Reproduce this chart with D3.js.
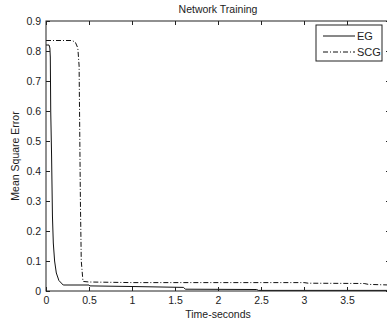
<!DOCTYPE html>
<html>
<head>
<meta charset="utf-8">
<script src="https://cdn.jsdelivr.net/npm/d3@7"></script>
<style>
  body { margin: 0; background: #fff; }
  text { font-family: "Liberation Sans", Arial, sans-serif; fill: #222; }
</style>
</head>
<body>
<svg id="chart" width="387" height="324"></svg>
<script>
// EG curve (solid)
const egTime = [0, 0.035, 0.045, 0.05, 0.055, 0.065, 0.075, 0.085, 0.1, 0.12, 0.15, 0.2, 0.5, 0.51, 1.0, 1.6, 1.62, 2.45, 2.47, 4.0];
const egMse = [0.82, 0.82, 0.81, 0.78, 0.6, 0.45, 0.25, 0.16, 0.1, 0.06, 0.035, 0.02, 0.02, 0.017, 0.015, 0.012, 0.006, 0.005, 0.002, 0.002];

// SCG curve (dash-dot)
const scgTime = [0, 0.3, 0.34, 0.37, 0.385, 0.39, 0.4, 0.41, 0.43, 0.5, 1.0, 3.0, 3.05, 3.7, 3.75, 4.0];
const scgMse = [0.835, 0.835, 0.83, 0.81, 0.75, 0.6, 0.3, 0.1, 0.032, 0.03, 0.028, 0.028, 0.026, 0.025, 0.022, 0.02];

// the "4" label falls past the right edge of the picture, so only its tick shows
const xTicks = [0, 0.5, 1, 1.5, 2, 2.5, 3, 3.5, 4];
const xTickLabels = ["0", "0.5", "1", "1.5", "2", "2.5", "3", "3.5", ""];
const yTicks = [0, 0.1, 0.2, 0.3, 0.4, 0.5, 0.6, 0.7, 0.8, 0.9];

const series = [
  { name: "EG", t: egTime, v: egMse, dash: null },
  { name: "SCG", t: scgTime, v: scgMse, dash: "5,2,1,2" },
];

const svg = d3.select("#chart");
const plotL = 46, plotR = 390, plotT = 21, plotB = 291;

const x = d3.scaleLinear().domain([0, 4]).range([plotL, plotR]);
const y = d3.scaleLinear().domain([0, 0.9]).range([plotB, plotT]);

svg.append("defs").append("clipPath").attr("id", "plot")
  .append("rect").attr("x", plotL).attr("y", plotT)
  .attr("width", plotR - plotL).attr("height", plotB - plotT);

// Lines
const line = d3.line().x((d) => x(d[0])).y((d) => y(d[1]));
svg.append("g").attr("clip-path", "url(#plot)")
  .selectAll("path")
  .data(series)
  .join("path")
  .attr("d", (s) => line(s.t.map((t, i) => [t, s.v[i]])))
  .attr("fill", "none")
  .attr("stroke", "#111")
  .attr("stroke-width", 1)
  .attr("stroke-dasharray", (s) => s.dash);

// Axes: MATLAB-style ticks pointing inward on all sides
const tickLen = 4;
const fmt = (d) => d === 0 ? "0" : String(d);

svg.append("g").attr("transform", `translate(0,${plotB})`)
  .call(d3.axisBottom(x).tickValues(xTicks).tickSize(-tickLen).tickPadding(6)
    .tickFormat((d, i) => xTickLabels[i]))
  .call((g) => g.select(".domain").remove());
svg.append("g").attr("transform", `translate(0,${plotT})`)
  .call(d3.axisTop(x).tickValues(xTicks).tickSize(-tickLen).tickFormat(""))
  .call((g) => g.select(".domain").remove());
svg.append("g").attr("transform", `translate(${plotL},0)`)
  .call(d3.axisLeft(y).tickValues(yTicks).tickSize(-tickLen).tickPadding(5).tickFormat(fmt))
  .call((g) => g.select(".domain").remove());
svg.append("g").attr("transform", `translate(${plotR},0)`)
  .call(d3.axisRight(y).tickValues(yTicks).tickSize(-tickLen).tickFormat(""))
  .call((g) => g.select(".domain").remove());

svg.selectAll(".tick line").attr("stroke", "#222");
svg.selectAll(".tick text").attr("font-size", 10.5).attr("fill", "#222");

svg.append("rect")
  .attr("x", plotL).attr("y", plotT)
  .attr("width", plotR - plotL).attr("height", plotB - plotT)
  .attr("fill", "none").attr("stroke", "#222").attr("stroke-width", 1);

// Labels
svg.append("text").attr("x", (plotL + plotR) / 2).attr("y", 13)
  .attr("text-anchor", "middle").attr("font-size", 10.5).text("Network Training");
svg.append("text").attr("x", (plotL + plotR) / 2).attr("y", 318)
  .attr("text-anchor", "middle").attr("font-size", 10.5).text("Time-seconds");
svg.append("text").attr("transform", `translate(19,${(plotT + plotB) / 2}) rotate(-90)`)
  .attr("text-anchor", "middle").attr("font-size", 10.5).text("Mean Square Error");

// Legend
const lg = svg.append("g").attr("transform", "translate(316,25)");
lg.append("rect").attr("width", 66).attr("height", 36)
  .attr("fill", "#fff").attr("stroke", "#222");
const item = lg.selectAll("g.item").data(series).join("g")
  .attr("class", "item")
  .attr("transform", (d, i) => `translate(0,${11 + i * 16})`);
item.append("line").attr("x1", 7).attr("x2", 39)
  .attr("stroke", "#111").attr("stroke-dasharray", (d) => d.dash);
item.append("text").attr("x", 41).attr("y", 4).attr("font-size", 11).text((d) => d.name);
</script>
</body>
</html>
